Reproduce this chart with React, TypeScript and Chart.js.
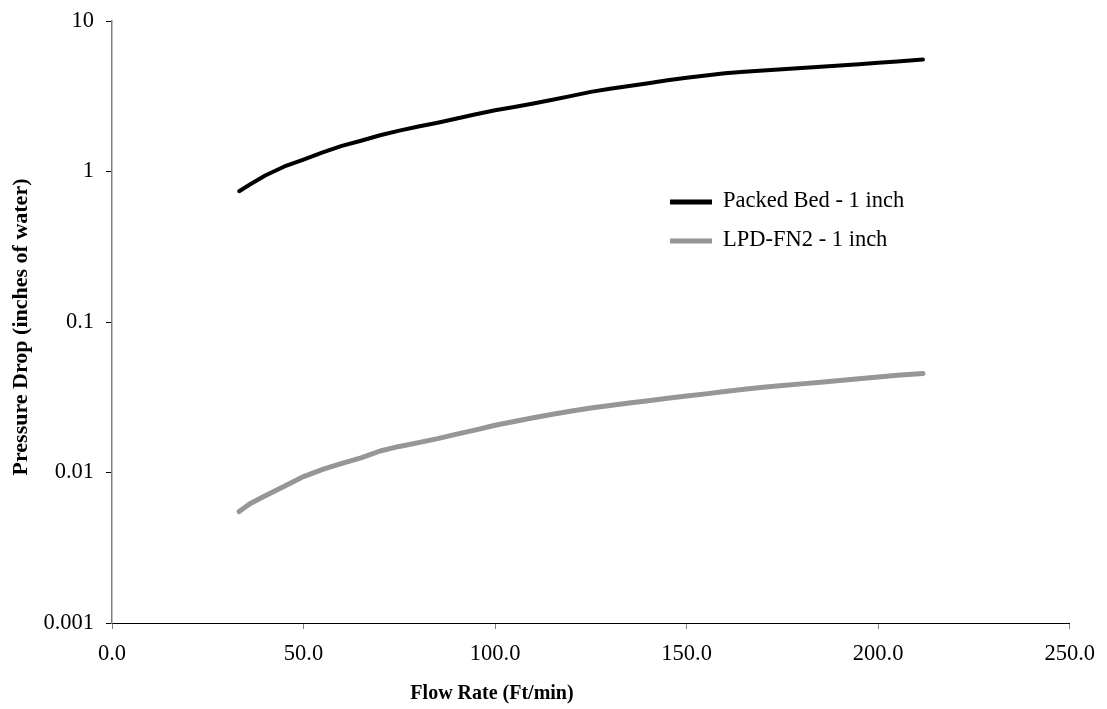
import React, { useEffect, useRef } from "react";
import { Chart, registerables } from "chart.js";

Chart.register(...registerables);

const flowRate = [33.2, 36, 40, 45, 50, 55, 60, 65, 70, 75, 80, 85, 90, 95, 100, 105, 110, 115, 120, 125, 130, 135, 140, 145, 150, 155, 160, 165, 170, 175, 180, 185, 190, 195, 200, 205, 211.7];
const packedBed = [0.74, 0.82, 0.94, 1.08, 1.2, 1.34, 1.48, 1.6, 1.74, 1.87, 1.99, 2.11, 2.25, 2.4, 2.55, 2.68, 2.83, 3.0, 3.18, 3.38, 3.55, 3.7, 3.86, 4.04, 4.19, 4.34, 4.49, 4.6, 4.69, 4.78, 4.87, 4.97, 5.06, 5.16, 5.27, 5.38, 5.54];
const lpdFn2 = [0.0055, 0.0062, 0.007, 0.0081, 0.0094, 0.0105, 0.0115, 0.0125, 0.0139, 0.0149, 0.0158, 0.0168, 0.018, 0.0192, 0.0206, 0.0218, 0.0231, 0.0244, 0.0256, 0.0268, 0.0279, 0.029, 0.03, 0.0311, 0.0322, 0.0333, 0.0345, 0.0357, 0.0368, 0.0378, 0.0388, 0.0398, 0.0408, 0.0419, 0.0431, 0.0442, 0.0455];
const seriesNames = ["Packed Bed - 1 inch", "LPD-FN2 - 1 inch"];
const yTicks = [0.001, 0.01, 0.1, 1, 10];
const yTickLabels = ["0.001", "0.01", "0.1", "1", "10"];
const xTitle = "Flow Rate (Ft/min)";
const yTitle = "Pressure Drop (inches of water)";

const FONT = '"Liberation Serif", "Times New Roman", serif';

const overlayPlugin = {
  id: "overlay",
  afterDraw(chart: any) {
    const ctx = chart.ctx;
    ctx.save();
    ctx.fillStyle = "#000";
    ctx.textAlign = "center";
    ctx.textBaseline = "middle";
    ctx.font = `bold 20px ${FONT}`;
    ctx.fillText(xTitle, 492, 694);
    ctx.save();
    ctx.translate(21, 327);
    ctx.rotate(-Math.PI / 2);
    ctx.font = `bold 22px ${FONT}`;
    ctx.fillText(yTitle, 0, 0);
    ctx.restore();

    // legend
    const ds = chart.data.datasets;
    const rows = [202, 241];
    ds.forEach((d: any, i: number) => {
      const y = rows[i];
      ctx.beginPath();
      ctx.strokeStyle = d.borderColor;
      ctx.lineWidth = 5;
      ctx.lineCap = "butt";
      ctx.moveTo(670, y);
      ctx.lineTo(712, y);
      ctx.stroke();
      ctx.fillStyle = "#000";
      ctx.textAlign = "left";
      ctx.textBaseline = "alphabetic";
      ctx.font = `22.5px ${FONT}`;
      ctx.fillText(d.label, 723, y + 5);
    });
    ctx.restore();
  },
};

export default function App() {
  const ref = useRef<HTMLCanvasElement | null>(null);
  useEffect(() => {
    if (!ref.current) return;
    const chart = new Chart(ref.current, {
      type: "line",
      data: {
        datasets: [
          {
            label: seriesNames[0],
            data: flowRate.map((x, i) => ({ x, y: packedBed[i] })),
            borderColor: "#000000",
            backgroundColor: "#000000",
            borderWidth: 4,
            pointRadius: 0,
            tension: 0,
            borderCapStyle: "round",
            borderJoinStyle: "round",
          },
          {
            label: seriesNames[1],
            data: flowRate.map((x, i) => ({ x, y: lpdFn2[i] })),
            borderColor: "#969696",
            backgroundColor: "#969696",
            borderWidth: 5,
            pointRadius: 0,
            tension: 0,
            borderCapStyle: "round",
            borderJoinStyle: "round",
          },
        ],
      },
      options: {
        responsive: false,
        animation: false,
        layout: { padding: { top: 21, right: 35, bottom: 0, left: 0 } },
        plugins: {
          legend: { display: false },
          tooltip: { enabled: false },
        },
        scales: {
          x: {
            type: "linear",
            min: 0,
            max: 250,
            ticks: {
              stepSize: 50,
              color: "#000",
              font: { family: FONT, size: 22.5 },
              padding: 12,
              maxRotation: 0,
              callback: (v: any) => Number(v).toFixed(1),
            },
            grid: {
              drawOnChartArea: false,
              drawTicks: true,
              tickLength: 6,
              color: "#808080",
            },
            border: { color: "#000000", width: 1 },
            afterFit: (scale: any) => {
              scale.height = 86;
            },
          },
          y: {
            type: "logarithmic",
            min: 0.001,
            max: 10,
            afterBuildTicks: (scale: any) => {
              scale.ticks = yTicks.map((v) => ({ value: v }));
            },
            ticks: {
              color: "#000",
              font: { family: FONT, size: 22.5, lineHeight: 0.75 },
              padding: 12,
              callback: (v: any) => {
                const idx = yTicks.indexOf(Number(v));
                return idx >= 0 ? yTickLabels[idx] : "";
              },
            },
            grid: {
              drawOnChartArea: false,
              drawTicks: true,
              tickLength: 6,
              color: "#000000",
            },
            border: { color: "#808080", width: 1.5 },
            afterFit: (scale: any) => {
              scale.width = 112;
            },
          },
        },
      },
      plugins: [overlayPlugin],
    });
    return () => chart.destroy();
  }, []);

  return (
    <div style={{ position: "absolute", left: 0, top: 0, width: 1107, height: 709, background: "#fff" }}>
      <canvas ref={ref} width={1107} height={709} />
    </div>
  );
}
